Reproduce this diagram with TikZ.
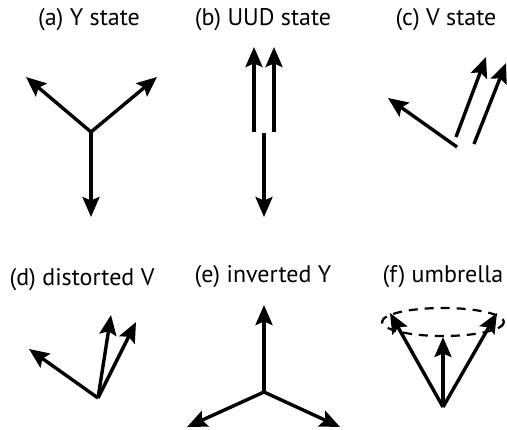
\documentclass[tikz,border=0pt]{standalone}
\usepackage{fontspec}
\setmainfont{PT Sans}
\usetikzlibrary{arrows.meta}
\begin{document}
\begin{tikzpicture}[x=1pt,y=-1pt,
  spin/.style={line width=3.4pt,-{Stealth[length=20pt,width=17pt,inset=3.5pt]}},
  lab/.style={font=\fontsize{24}{28}\selectfont,inner sep=0pt}]
\useasboundingbox (0,0) rectangle (507,430);
% labels
\node[lab] (la) at (89,20) {(a) Y state};
\node[lab] (lb) at (263,20) {(b) UUD state};
\node[lab] (lc) at (446,20) {(c) V state};
\node[lab] (ld) at (82,280) {(d) distorted V};
\node[lab] (le) at (263,277) {(e) inverted Y};
\node[lab] (lf) at (443,277) {(f) umbrella};
% (a)
\coordinate (ao) at (91,132);
\coordinate (a1) at (26,77);
\coordinate (a2) at (157,77);
\coordinate (a3) at (91,217);
\draw[spin] (ao) -- (a1);
\draw[spin] (ao) -- (a2);
\draw[spin] (ao) -- (a3);
% (b)
\coordinate (b1o) at (254,132); \coordinate (b1) at (254,47);
\coordinate (b2o) at (274,132); \coordinate (b2) at (274,47);
\coordinate (b3o) at (264,133); \coordinate (b3) at (264,217);
\draw[spin] (b1o) -- (b1);
\draw[spin] (b2o) -- (b2);
\draw[spin] (b3o) -- (b3);
% (c)
\coordinate (c1o) at (457,147); \coordinate (c1) at (388,98);
\coordinate (c2o) at (456,137); \coordinate (c2) at (486,57);
\coordinate (c3o) at (474,144); \coordinate (c3) at (506,63);
\draw[spin] (c1o) -- (c1);
\draw[spin] (c2o) -- (c2);
\draw[spin] (c3o) -- (c3);
% (d)
\coordinate (do) at (98,398);
\coordinate (d1) at (29,349);
\coordinate (d2) at (111,315);
\coordinate (d3) at (136,322);
\draw[spin] (do) -- (d1);
\draw[spin] (do) -- (d2);
\draw[spin] (do) -- (d3);
% (e)
\coordinate (eo) at (264,392);
\coordinate (e1) at (264,305);
\coordinate (e2) at (187,427);
\coordinate (e3) at (340,427);
\draw[spin] (eo) -- (e1);
\draw[spin] (eo) -- (e2);
\draw[spin] (eo) -- (e3);
% (f)
\coordinate (fc) at (443,322);
\draw[line width=2.2pt,dash pattern=on 9pt off 7pt] (fc) ellipse [x radius=61, y radius=14];
\coordinate (fo) at (443,407);
\coordinate (f1) at (390,313);
\coordinate (f2) at (443,337);
\coordinate (f3) at (497,313);
\draw[spin] (fo) -- (f1);
\draw[spin] (fo) -- (f2);
\draw[spin] (fo) -- (f3);
\end{tikzpicture}
\end{document}
